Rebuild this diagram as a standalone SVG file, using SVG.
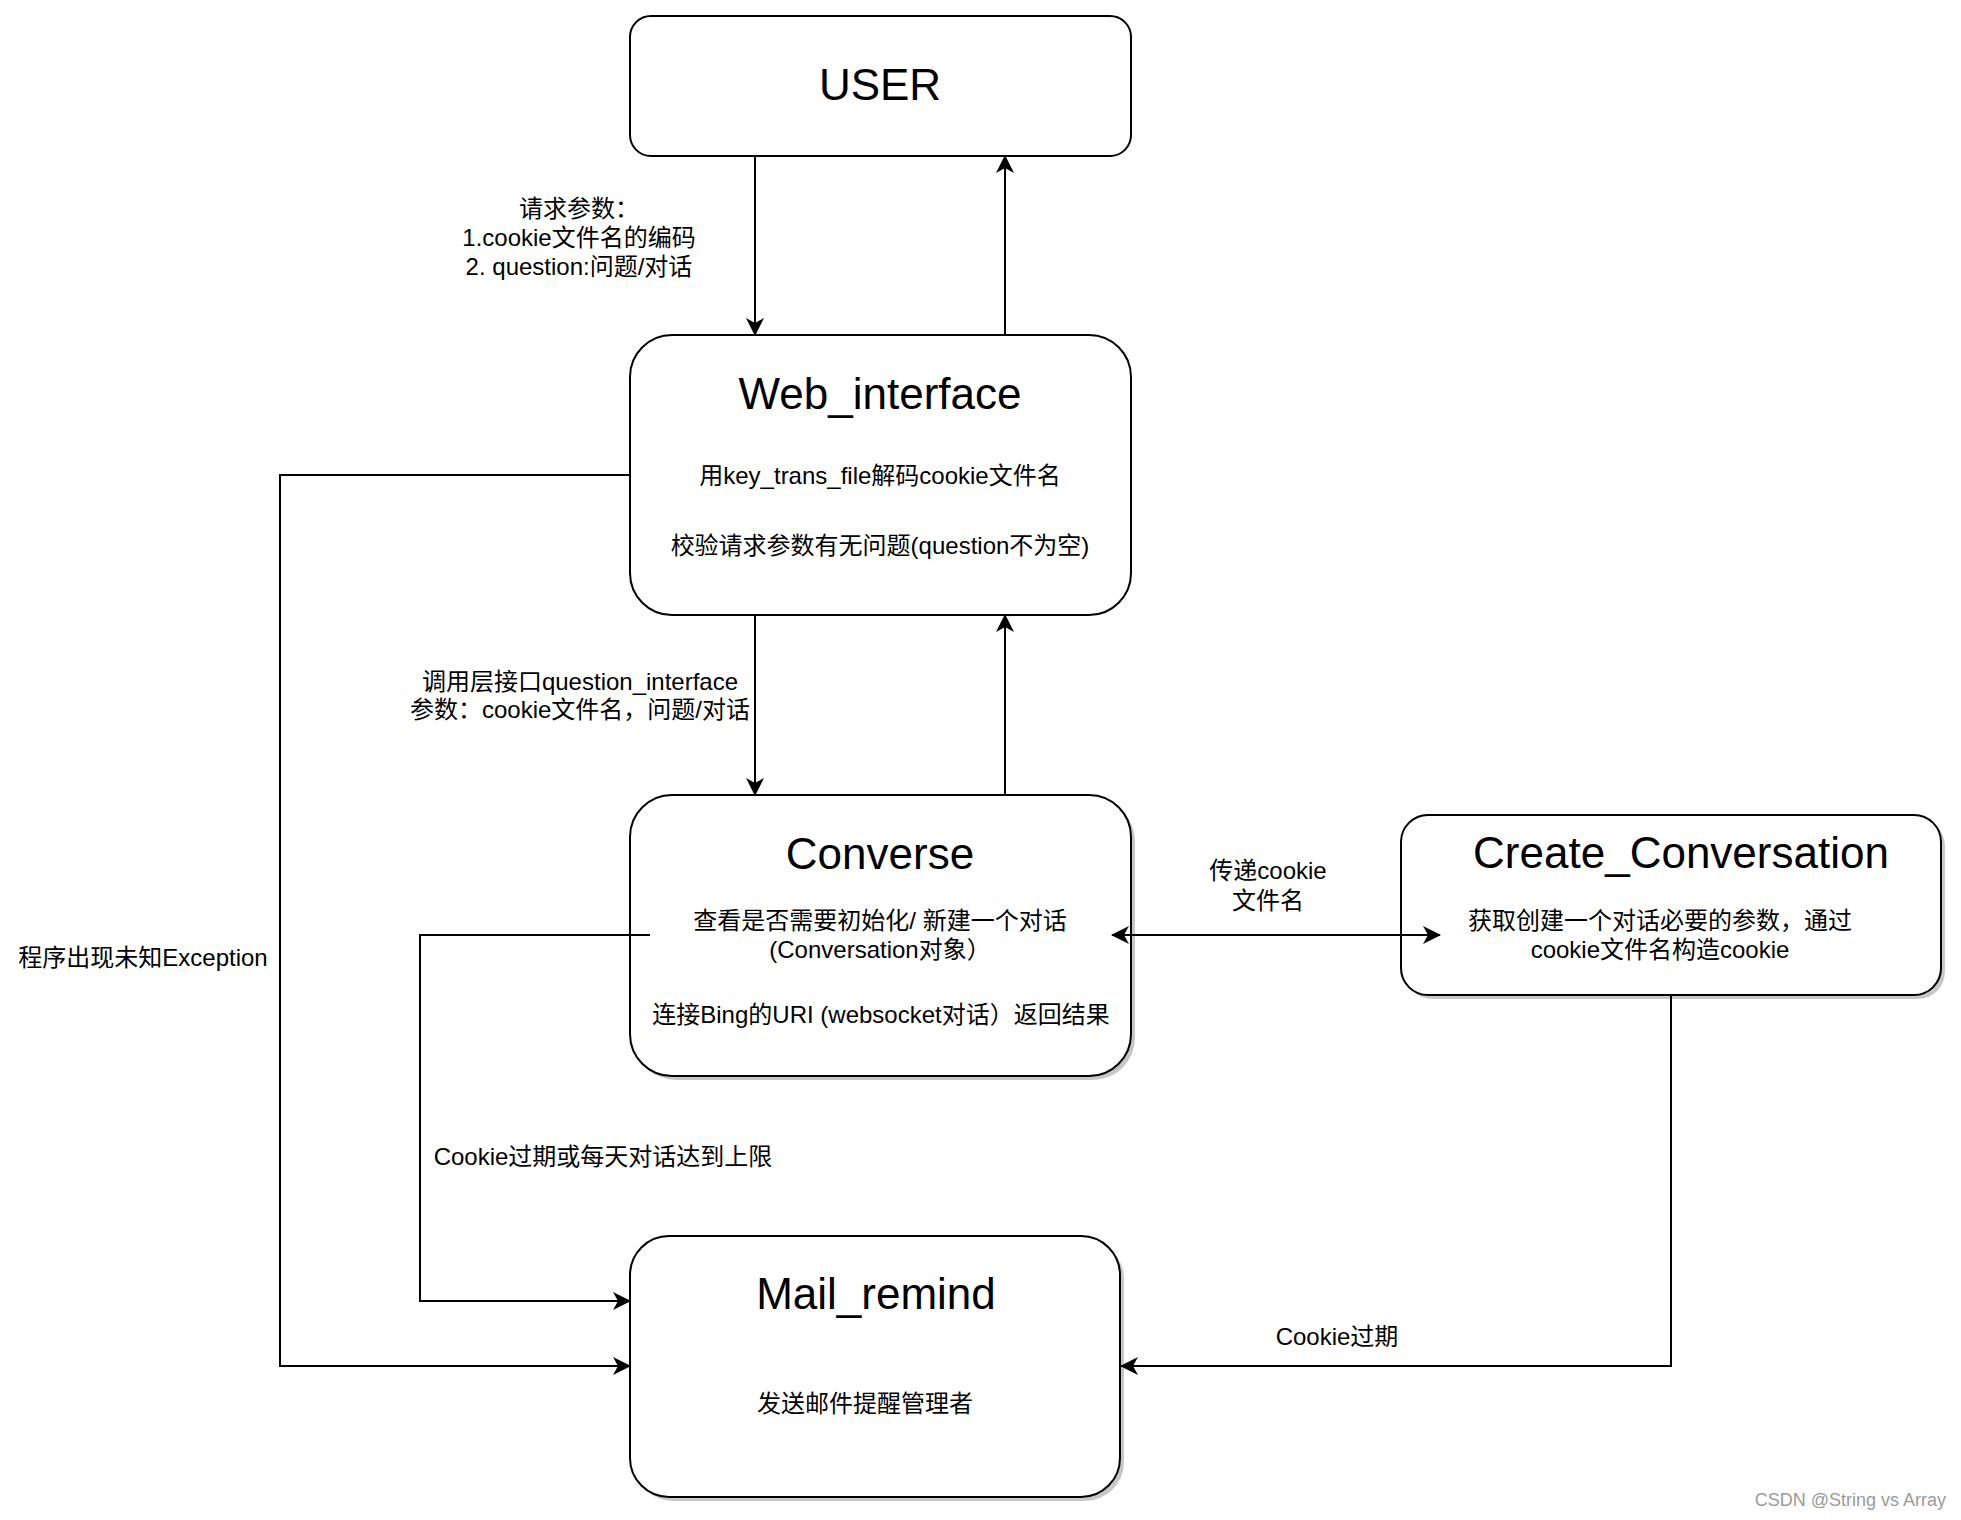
<svg xmlns="http://www.w3.org/2000/svg" width="1961" height="1520" viewBox="0 0 1961 1520">
  <defs>
    <marker id="arr" viewBox="0 0 18 18" refX="17" refY="9" markerWidth="18" markerHeight="18" markerUnits="userSpaceOnUse" orient="auto-start-reverse">
      <path d="M0,0 L18,9 L0,18 L5,9 Z" fill="#000"/>
    </marker>
  </defs>
  <style>
    .box { fill: #fff; stroke: #000; stroke-width: 2; }
    .shadow { fill: #000; opacity: 0.22; }
    .edge { fill: none; stroke: #000; stroke-width: 2; }
    .title { font-family: "Liberation Sans", Arial, "Noto Sans CJK SC", sans-serif; font-size: 44px; fill: #000; text-anchor: middle; }
    .txt { font-family: "Liberation Sans", Arial, "Noto Sans CJK SC", sans-serif; font-size: 24px; fill: #000; text-anchor: middle; }
    .wm { font-family: "Liberation Sans", Arial, sans-serif; font-size: 18px; fill: #9a9a9a; text-anchor: end; }
  </style>
  <rect width="1961" height="1520" fill="#fff"/>

  <g id="connectors">
    <line class="edge" x1="755" y1="156" x2="755" y2="335" marker-end="url(#arr)"/>
    <line class="edge" x1="1005" y1="335" x2="1005" y2="156" marker-end="url(#arr)"/>
    <line class="edge" x1="755" y1="615" x2="755" y2="795" marker-end="url(#arr)"/>
    <line class="edge" x1="1005" y1="795" x2="1005" y2="615" marker-end="url(#arr)"/>
    <polyline class="edge" points="630,475 280,475 280,1366 630,1366" marker-end="url(#arr)"/>
    <polyline class="edge" points="1671,995 1671,1366 1121,1366" marker-end="url(#arr)"/>
    <text class="txt" x="579" y="217">请求参数：</text>
    <text class="txt" x="579" y="246">1.cookie文件名的编码</text>
    <text class="txt" x="579" y="275">2. question:问题/对话</text>
    <text class="txt" x="580" y="690">调用层接口question_interface</text>
    <text class="txt" x="580" y="718">参数：cookie文件名，问题/对话</text>
    <text class="txt" x="1268" y="879">传递cookie</text>
    <text class="txt" x="1268" y="909">文件名</text>
    <text class="txt" x="143" y="966">程序出现未知Exception</text>
    <text class="txt" x="603" y="1165">Cookie过期或每天对话达到上限</text>
    <text class="txt" x="1337" y="1345">Cookie过期</text>
  </g>

  <g id="user">
    <rect class="box" x="630" y="16" width="501" height="140" rx="21" ry="21"/>
    <text class="title" x="880" y="100">USER</text>
  </g>

  <g id="web_interface">
    <rect class="box" x="630" y="335" width="501" height="280" rx="42" ry="42"/>
    <text class="title" x="880" y="409">Web_interface</text>
    <text class="txt" x="880" y="484">用key_trans_file解码cookie文件名</text>
    <text class="txt" x="880" y="554">校验请求参数有无问题(question不为空)</text>
  </g>

  <g id="converse">
    <rect class="shadow" x="634" y="799" width="501" height="281" rx="42" ry="42"/>
    <rect class="box" x="630" y="795" width="501" height="281" rx="42" ry="42"/>
    <text class="title" x="880" y="869">Converse</text>
    <text class="txt" x="880" y="929">查看是否需要初始化/ 新建一个对话</text>
    <text class="txt" x="880" y="958">(Conversation对象）</text>
    <text class="txt" x="881" y="1023">连接Bing的URI (websocket对话）返回结果</text>
  </g>

  <g id="create_conversation">
    <rect class="shadow" x="1405" y="819" width="540" height="180" rx="27" ry="27"/>
    <rect class="box" x="1401" y="815" width="540" height="180" rx="27" ry="27"/>
    <text class="title" x="1681" y="868">Create_Conversation</text>
    <text class="txt" x="1660" y="929">获取创建一个对话必要的参数，通过</text>
    <text class="txt" x="1660" y="958">cookie文件名构造cookie</text>
  </g>

  <g id="mail_remind">
    <rect class="shadow" x="634" y="1240" width="490" height="261" rx="39" ry="39"/>
    <rect class="box" x="630" y="1236" width="490" height="261" rx="39" ry="39"/>
    <text class="title" x="876" y="1309">Mail_remind</text>
    <text class="txt" x="865" y="1412">发送邮件提醒管理者</text>
  </g>

  <g id="connectors-over">
    <polyline class="edge" points="650,935 420,935 420,1301 630,1301" marker-end="url(#arr)"/>
    <line class="edge" x1="1112" y1="935" x2="1440" y2="935" marker-start="url(#arr)" marker-end="url(#arr)"/>
  </g>

  <text class="wm" x="1946" y="1506">CSDN @String vs Array</text>
</svg>
